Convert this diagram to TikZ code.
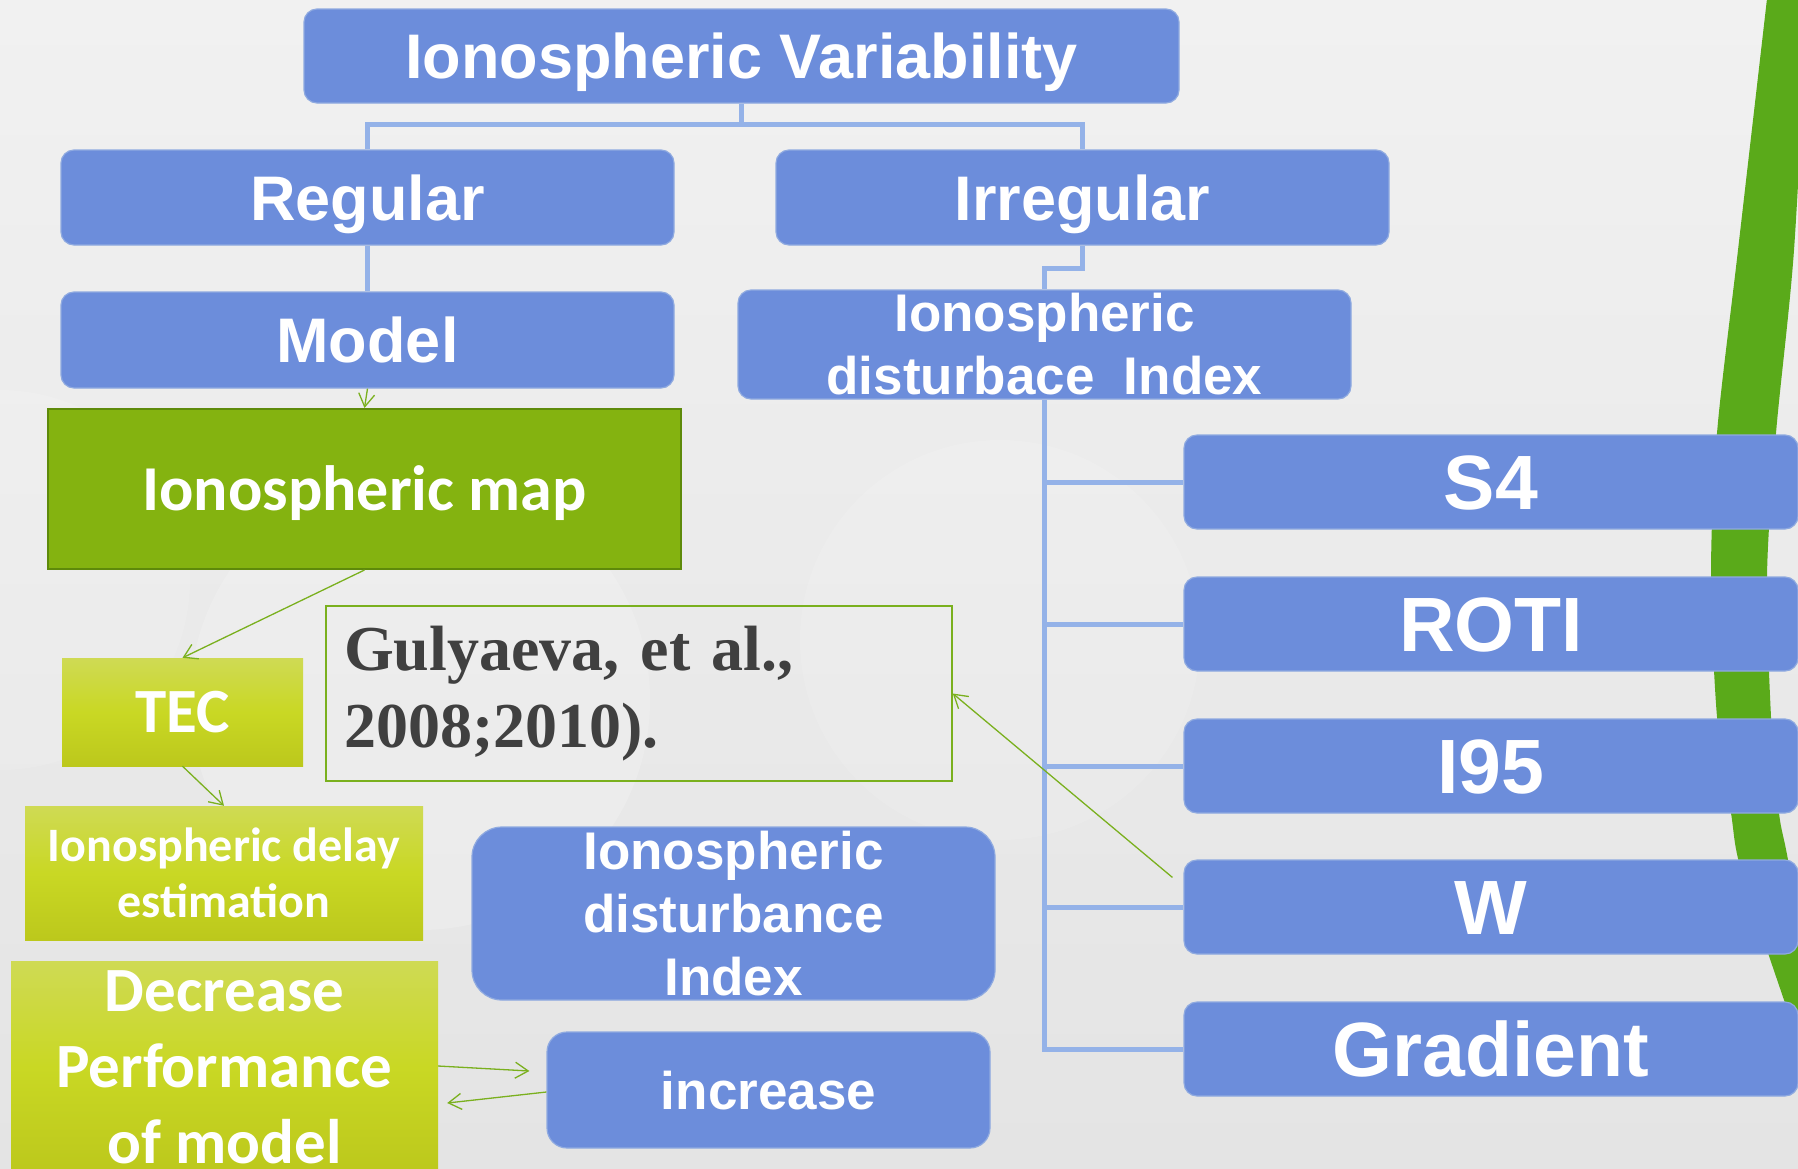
\documentclass[tikz,border=0pt]{standalone}
\usepackage{fontspec}
\setmainfont{Liberation Sans}
\newfontfamily\calfont{Carlito}
\newfontfamily\serfont{Liberation Serif}
\usetikzlibrary{arrows.meta,calc}
\definecolor{bluebox}{RGB}{108,141,219}
\definecolor{blueedge}{RGB}{143,170,224}
\definecolor{conncol}{RGB}{148,178,232}
\definecolor{mapgreen}{RGB}{132,179,16}
\definecolor{mapedge}{RGB}{94,138,10}
\definecolor{limetop}{RGB}{207,218,84}
\definecolor{limemid}{RGB}{201,216,36}
\definecolor{limebot}{RGB}{188,200,28}
\definecolor{arrowgreen}{RGB}{122,176,30}
\definecolor{bandgreen}{RGB}{90,170,26}
\definecolor{citetext}{RGB}{64,64,64}
\definecolor{bgtop}{RGB}{241,241,241}
\definecolor{bgbot}{RGB}{228,228,228}
\begin{document}
\begin{tikzpicture}[x=1pt,y=-1pt,
  bbox/.style={draw=blueedge,line width=1.2pt,fill=bluebox,rounded corners=13pt,text=white,inner sep=0pt,align=center},
  oneline/.style={text height=#1,text depth=0pt},
  bigtxt/.style={font={\fontsize{63}{70}\selectfont\bfseries},oneline=45pt},
  idxtxt/.style={font={\fontsize{77}{80}\selectfont\bfseries},oneline=55pt},
  midtxt/.style={font={\fontsize{53}{63}\selectfont\bfseries}},
  limebox/.style={top color=limetop,bottom color=limebot,middle color=limemid,text=white,inner sep=0pt,align=center},
  conn/.style={draw=conncol,line width=5pt},
  garrow/.style={draw=arrowgreen,line width=1.3pt,-{Straight Barb[length=13pt,width=16pt,line width=1.3pt]}}
]
\useasboundingbox (0,0) rectangle (1798,1168);
\begin{scope}
\clip (0,0) rectangle (1798,1168);
\shade[top color=bgtop,bottom color=bgbot] (0,0) rectangle (1798,1168);
\fill[white,opacity=0.18] (420,700) circle (230);
\fill[white,opacity=0.12] (1000,640) circle (200);
\fill[white,opacity=0.12] (0,580) circle (190);
\fill[bandgreen] plot[smooth] coordinates {(1768,-10) (1738,250) (1717,433) (1711,575) (1717,717) (1731,813) (1741,870) (1784,1000) (1806,1060)}
  -- plot[smooth] coordinates {(1812,1000) (1788,860) (1779,813) (1771,717) (1767,575) (1776,433) (1794,250) (1808,-10)} -- cycle;
\end{scope}

% blue boxes
\node[bbox,bigtxt,minimum width=875pt,minimum height=94pt] (title) at (741.5,56) {Ionospheric Variability};
\node[bbox,bigtxt,minimum width=613pt,minimum height=95pt] (regular) at (367.5,197.5) {Regular};
\node[bbox,bigtxt,minimum width=613pt,minimum height=95pt] (irregular) at (1082.5,197.5) {Irregular};
\node[bbox,bigtxt,minimum width=613pt,minimum height=96pt] (model) at (367.5,340) {Model};
\node[bbox,midtxt,minimum width=613pt,minimum height=109pt] (idi) at (1044.5,344.5) {Ionospheric\\disturbace\ \ Index};
\node[bbox,idxtxt,minimum width=614pt,minimum height=94pt] (s4) at (1491,482) {S4};
\node[bbox,idxtxt,minimum width=614pt,minimum height=94pt] (roti) at (1491,624) {ROTI};
\node[bbox,idxtxt,minimum width=614pt,minimum height=94pt] (i95) at (1491,766) {I95};
\node[bbox,idxtxt,minimum width=614pt,minimum height=94pt] (w) at (1491,907) {W};
\node[bbox,idxtxt,minimum width=614pt,minimum height=94pt] (gradient) at (1491,1049) {Gradient};
\node[bbox,midtxt,rounded corners=30pt,minimum width=523pt,minimum height=173pt] (idi2) at (733.5,913.5) {Ionospheric\\disturbance\\Index};
\node[bbox,midtxt,oneline=38pt,rounded corners=20pt,minimum width=443pt,minimum height=116pt] (increase) at (768.5,1090) {increase};

% green boxes
\node[draw=mapedge,line width=2pt,fill=mapgreen,text=white,inner sep=0pt,oneline=42pt,minimum width=633pt,minimum height=160pt,font={\fontsize{64}{70}\selectfont\calfont\bfseries}] (map) at (364.5,489) {Ionospheric map};
\node[limebox,oneline=41pt,minimum width=241pt,minimum height=108pt,font={\fontsize{63}{70}\selectfont\calfont\bfseries}] (tec) at (182.5,712) {TEC};
\node[limebox,minimum width=398pt,minimum height=134pt,font={\fontsize{48}{56}\selectfont\calfont\bfseries}] (delay) at (224,873) {Ionospheric delay\\estimation};
\node[limebox,minimum width=427pt,minimum height=212pt,font={\fontsize{63}{76}\selectfont\calfont\bfseries}] (decrease) at (224.5,1067) {Decrease\\Performance\\of model};

% citation
\node[draw=arrowgreen,line width=1.5pt,minimum width=626pt,minimum height=175pt,text width=590pt,inner sep=0pt,align=left,text=citetext,font={\fontsize{64}{77}\selectfont\serfont\bfseries}] (cite) at (639,693.5) {Gulyaeva, et al.,\\2008;2010).};

% blue connectors
\draw[conn] (title.south) -- ++(0,21) coordinate (tj);
\draw[conn] (regular.north) |- (tj) -| (irregular.north);
\draw[conn] (regular.south) -- (model.north);
\draw[conn] (irregular.south) -- ++(0,23) -| (idi.north);
\draw[conn] (idi.south) |- (gradient.west);
\draw[conn] (idi.south |- s4.west) -- (s4.west);
\draw[conn] (idi.south |- roti.west) -- (roti.west);
\draw[conn] (idi.south |- i95.west) -- (i95.west);
\draw[conn] (idi.south |- w.west) -- (w.west);

% green arrows
\draw[garrow] (model.south) -- (map.north);
\draw[garrow] (map.south) -- (tec.north);
\draw[garrow] (tec.south) -- (delay.north);
\draw[garrow] (decrease.east |- 0,1066) -- ($(increase.west |- 0,1071)+(-17,0)$);
\draw[garrow] ($(increase.west)+(0,2)$) -- ($(decrease.east |- 0,1103)+(9,0)$);
\draw[garrow] ($(w.north west)+(-11,18)$) -- (cite.east);
\end{tikzpicture}
\end{document}
